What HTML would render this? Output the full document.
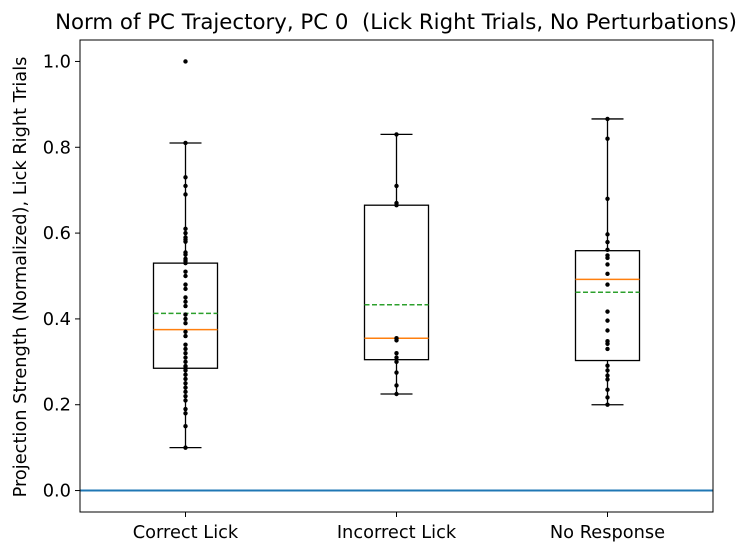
<!DOCTYPE html>
<html><head><meta charset="utf-8"><style>
body{margin:0;background:#fff;}
svg text{font-family:"DejaVu Sans","Liberation Sans",sans-serif;fill:#000;}
</style></head><body>
<svg id="chart" width="751" height="555" xmlns="http://www.w3.org/2000/svg">
<rect width="751" height="555" fill="#fff"/>
<g id="plot"></g>
<text x="396" y="29" font-size="21.3" text-anchor="middle" xml:space="preserve">Norm of PC Trajectory, PC 0  (Lick Right Trials, No Perturbations)</text>
<text transform="translate(26,277) rotate(-90)" font-size="17.8" text-anchor="middle">Projection Strength (Normalized), Lick Right Trials</text>
</svg>
<script>
const categories=["Correct Lick","Incorrect Lick","No Response"];
const pointsCorrect=[1.0,0.81,0.73,0.71,0.69,0.61,0.60,0.59,0.585,0.58,0.555,0.55,0.54,0.535,0.53,0.51,0.50,0.48,0.47,0.45,0.44,0.43,0.41,0.40,0.39,0.37,0.36,0.34,0.33,0.32,0.31,0.30,0.29,0.285,0.28,0.27,0.26,0.25,0.24,0.23,0.22,0.21,0.19,0.18,0.15,0.10];
const pointsIncorrect=[0.83,0.71,0.67,0.665,0.355,0.35,0.32,0.31,0.30,0.275,0.245,0.225];
const pointsNoResp=[0.866,0.82,0.68,0.597,0.579,0.561,0.548,0.542,0.527,0.505,0.48,0.417,0.396,0.373,0.348,0.342,0.33,0.291,0.28,0.268,0.259,0.235,0.217,0.20];
const whiskerLow=[0.10,0.225,0.20];
const q1=[0.285,0.305,0.303];
const medians=[0.375,0.355,0.492];
const means=[0.413,0.433,0.462];
const q3=[0.53,0.665,0.559];
const whiskerHigh=[0.81,0.83,0.866];
const yTicks=[0.0,0.2,0.4,0.6,0.8,1.0];
const yTickLabels=["0.0","0.2","0.4","0.6","0.8","1.0"];

const L=80,R=713,T=40,B=512,ymin=-0.05,ymax=1.05;
const X=i=>L+(i+1-0.5)*(R-L)/3;
const Y=v=>B-(v-ymin)*(B-T)/(ymax-ymin);
const g=document.getElementById('plot');
const NS="http://www.w3.org/2000/svg";
function mk(tag,attrs){const e=document.createElementNS(NS,tag);for(const k in attrs)e.setAttribute(k,attrs[k]);g.appendChild(e);return e;}
const allPts=[pointsCorrect,pointsIncorrect,pointsNoResp];
categories.forEach((c,i)=>{
  const x=X(i),hw=32,cw=16;
  let e;
  e=mk('line',{x1:x,x2:x,y1:Y(whiskerLow[i]),y2:Y(q1[i]),stroke:'#000','stroke-width':1.3});
  
  e=mk('line',{x1:x,x2:x,y1:Y(q3[i]),y2:Y(whiskerHigh[i]),stroke:'#000','stroke-width':1.3});
  
  e=mk('line',{x1:x-cw,x2:x+cw,y1:Y(whiskerLow[i]),y2:Y(whiskerLow[i]),stroke:'#000','stroke-width':1.3});
  
  e=mk('line',{x1:x-cw,x2:x+cw,y1:Y(whiskerHigh[i]),y2:Y(whiskerHigh[i]),stroke:'#000','stroke-width':1.3});
  
  e=mk('rect',{x:x-hw,y:Y(q3[i]),width:2*hw,height:Y(q1[i])-Y(q3[i]),fill:'none',stroke:'#000','stroke-width':1.3});
  
  e=mk('line',{x1:x-hw,x2:x+hw,y1:Y(medians[i]),y2:Y(medians[i]),stroke:'#ff7f0e','stroke-width':1.5});
  
  e=mk('line',{x1:x-hw,x2:x+hw,y1:Y(means[i]),y2:Y(means[i]),stroke:'#2ca02c','stroke-width':1.5,'stroke-dasharray':'5,2.5'});
  
  allPts[i].forEach(v=>{
    const p=mk('circle',{cx:x,cy:Y(v),r:2.2,fill:'#000'});
    
    
  });
  e=mk('line',{x1:x,x2:x,y1:B,y2:B+5,stroke:'#000','stroke-width':1});
  
  const t=mk('text',{x:x,y:B+26,'font-size':17.8,'text-anchor':'middle'});t.textContent=c;
  
});
let z=mk('line',{x1:L,x2:R,y1:Y(0),y2:Y(0),stroke:'#1f77b4','stroke-width':2});

yTicks.forEach((v,i)=>{
  let e=mk('line',{x1:L-5,x2:L,y1:Y(v),y2:Y(v),stroke:'#000','stroke-width':1});
  
  const t=mk('text',{x:L-9,y:Y(v)+6,'font-size':17.8,'text-anchor':'end'});t.textContent=yTickLabels[i];
  
});
let f=mk('rect',{x:L,y:T,width:R-L,height:B-T,fill:'none',stroke:'#000','stroke-width':1});

</script>
</body></html>
